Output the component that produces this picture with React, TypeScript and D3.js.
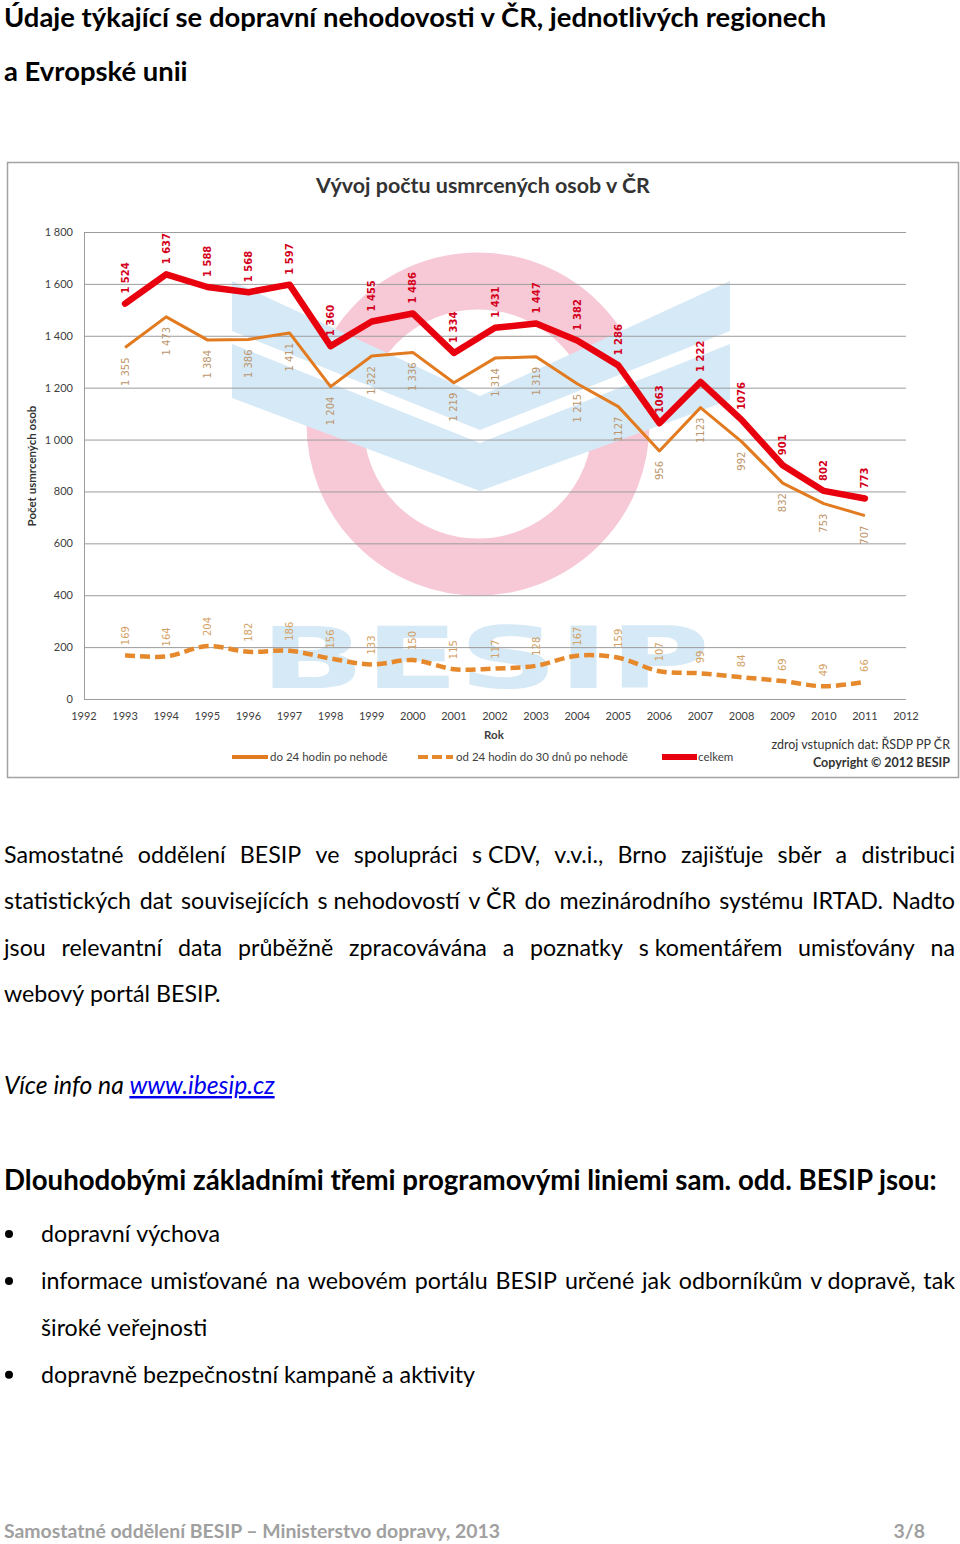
import React from 'react';
import * as d3 from 'd3';

// ---------- data ----------
const YEARS = [1993, 1994, 1995, 1996, 1997, 1998, 1999, 2000, 2001, 2002, 2003, 2004, 2005, 2006, 2007, 2008, 2009, 2010, 2011];
const X_TICKS = [1992, 1993, 1994, 1995, 1996, 1997, 1998, 1999, 2000, 2001, 2002, 2003, 2004, 2005, 2006, 2007, 2008, 2009, 2010, 2011, 2012];
const Y_TICKS = [0, 200, 400, 600, 800, 1000, 1200, 1400, 1600, 1800];
const Y_TICK_LABELS = ['0', '200', '400', '600', '800', '1 000', '1 200', '1 400', '1 600', '1 800'];

const CELKEM = [1524, 1637, 1588, 1568, 1597, 1360, 1455, 1486, 1334, 1431, 1447, 1382, 1286, 1063, 1222, 1076, 901, 802, 773];
const DO24 = [1355, 1473, 1384, 1386, 1411, 1204, 1322, 1336, 1219, 1314, 1319, 1215, 1127, 956, 1123, 992, 832, 753, 707];
const DO30 = [169, 164, 204, 182, 186, 156, 133, 150, 115, 117, 128, 167, 159, 107, 99, 84, 69, 49, 66];

const CELKEM_LABELS = ['1 524', '1 637', '1 588', '1 568', '1 597', '1 360', '1 455', '1 486', '1 334', '1 431', '1 447', '1 382', '1 286', '1063', '1 222', '1076', '901', '802', '773'];
const DO24_LABELS = ['1 355', '1 473', '1 384', '1 386', '1 411', '1 204', '1 322', '1 336', '1 219', '1 314', '1 319', '1 215', '1127', '956', '1123', '992', '832', '753', '707'];
const DO30_LABELS = ['169', '164', '204', '182', '186', '156', '133', '150', '115', '117', '128', '167', '159', '107', '99', '84', '69', '49', '66'];

const SERIES_NAMES = ['do 24 hodin po nehodě', 'od 24 hodin do 30 dnů po nehodě', 'celkem'];

// ---------- texts ----------
const TITLE1 = 'Údaje týkající se dopravní nehodovosti v ČR, jednotlivých regionech';
const TITLE2 = 'a Evropské unii';
const CHART_TITLE = 'Vývoj počtu usmrcených osob v ČR';
const BODY = [
  'Samostatné oddělení BESIP ve spolupráci s\u00a0CDV, v.v.i., Brno zajišťuje sběr a distribuci',
  'statistických dat souvisejících s\u00a0nehodovostí v\u00a0ČR do mezinárodního systému IRTAD. Nadto',
  'jsou relevantní data průběžně zpracovávána a poznatky s\u00a0komentářem umisťovány na',
  'webový portál BESIP.',
];
const MORE_INFO = 'Více info na ';
const LINK = 'www.ibesip.cz';
const HEADLINE = 'Dlouhodobými základními třemi programovými liniemi sam. odd. BESIP jsou:';
const BULLETS = [
  ['dopravní výchova'],
  ['informace umisťované na webovém portálu BESIP určené jak odborníkům v\u00a0dopravě, tak', 'široké veřejnosti'],
  ['dopravně bezpečnostní kampaně a aktivity'],
];
const FOOTER = 'Samostatné oddělení BESIP – Ministerstvo dopravy, 2013';

// ---------- measuring ----------
const FONT = 'Lato, Carlito, Calibri, "Open Sans", sans-serif';
let ctx: CanvasRenderingContext2D | null = null;
try {
  ctx = document.createElement('canvas').getContext('2d');
} catch (e) {
  ctx = null;
}
function measure(text: string, font: string): number {
  if (!ctx) return text.length * 10;
  ctx.font = font;
  return ctx.measureText(text).width;
}
function fit(text: string, weight: string, style: string, target: number): number {
  const w = measure(text, `${style} ${weight} 100px Lato`);
  return (target / w) * 100;
}

function Justified({ x, y, width, text, size, weight = 'normal', fill = '#000', justify = true }: any) {
  const words = text.split(' ');
  const font = `normal ${weight} ${size}px Lato`;
  const ws = words.map((w: string) => measure(w, font));
  const sum = ws.reduce((a: number, b: number) => a + b, 0);
  const spaceW = measure(' ', font);
  const gap = justify && words.length > 1 ? (width - sum) / (words.length - 1) : spaceW;
  let cx = x;
  return (
    <text y={y} fontFamily={FONT} fontSize={size} fontWeight={weight} fill={fill}>
      {words.map((w: string, i: number) => {
        const el = (
          <tspan key={i} x={cx}>
            {w}
          </tspan>
        );
        cx += ws[i] + gap;
        return el;
      })}
    </text>
  );
}

// ---------- chart ----------
const PLOT = { left: 84, right: 906, top: 232, bottom: 699 };

function Chart() {
  const x = d3.scaleLinear().domain([1992, 2012]).range([PLOT.left, PLOT.right]);
  const y = d3.scaleLinear().domain([0, 1800]).range([PLOT.bottom, PLOT.top]);

  const lineStraight = d3
    .line<number>()
    .x((_, i) => x(YEARS[i]))
    .y((d) => y(d));
  const lineSmooth = d3
    .line<number>()
    .x((_, i) => x(YEARS[i]))
    .y((d) => y(d))
    .curve(d3.curveCatmullRom.alpha(0.5));

  const ctSize = fit(CHART_TITLE, 'bold', 'normal', 335);

  const RED = '#e8000f';
  const ORANGE = '#e27a1f';
  const DASH = '#e5892c';

  return (
    <g>
      <rect x={7.5} y={162.5} width={951} height={615} fill="#fff" stroke="#a3a3a3" strokeWidth={1.5} />

      {/* watermark */}
      <g>
        <circle cx={478} cy={424} r={143} fill="none" stroke="#f7c9d7" strokeWidth={57} />
        <polygon points="232,281 480,396 730,281 730,400 480,491 232,398" fill="#d6e9f6" />
        <polygon points="232,331 480,430 730,331 730,344 480,443 232,344" fill="#ffffff" />
        <text
          x={260}
          y={688}
          fontFamily='"DejaVu Sans", sans-serif'
          fontWeight="bold"
          fontSize={86}
          fill="#d6e9f6"
          textLength={450}
          lengthAdjust="spacingAndGlyphs"
        >
          BESIP
        </text>
      </g>

      <text x={483} y={193} textAnchor="middle" fontFamily={FONT} fontWeight="bold" fontSize={ctSize} fill="#333">
        {CHART_TITLE}
      </text>

      {/* grid */}
      {Y_TICKS.map((t, i) => (
        <g key={t}>
          <line x1={PLOT.left} x2={PLOT.right} y1={y(t) + 0.5} y2={y(t) + 0.5} stroke="#9c9c9c" strokeWidth={1} />
          <text x={73} y={y(t) + 4} textAnchor="end" fontFamily={FONT} fontSize={11} fill="#404040">
            {Y_TICK_LABELS[i]}
          </text>
        </g>
      ))}
      <line x1={PLOT.left + 0.5} x2={PLOT.left + 0.5} y1={PLOT.top} y2={PLOT.bottom} stroke="#9c9c9c" strokeWidth={1} />

      {X_TICKS.map((t) => (
        <text key={t} x={x(t)} y={720} textAnchor="middle" fontFamily={FONT} fontSize={11} fill="#404040">
          {t}
        </text>
      ))}
      <text x={494} y={739} textAnchor="middle" fontFamily={FONT} fontWeight="bold" fontSize={11.5} fill="#404040">
        Rok
      </text>
      <text
        transform="translate(36,466) rotate(-90)"
        textAnchor="middle"
        fontFamily={FONT}
        fontWeight="bold"
        fontSize={11.5}
        fill="#333"
      >
        Počet usmrcených osob
      </text>

      {/* series */}
      <path d={lineStraight(DO24) || ''} fill="none" stroke={ORANGE} strokeWidth={3} strokeLinejoin="round" />
      <path d={lineSmooth(DO30) || ''} fill="none" stroke={DASH} strokeWidth={4.5} strokeDasharray="10 5" />
      <path d={lineStraight(CELKEM) || ''} fill="none" stroke={RED} strokeWidth={6.5} strokeLinejoin="round" strokeLinecap="round" />

      {/* labels */}
      {YEARS.map((yr, i) => (
        <g key={yr}>
          <text
            transform={`translate(${x(yr)},${y(CELKEM[i]) - 10}) rotate(-90)`}
            dy="0.35em"
            fontFamily='"DejaVu Sans", sans-serif'
            fontWeight="bold"
            fontSize={10}
            fill="#d4001c"
          >
            {CELKEM_LABELS[i]}
          </text>
          <text
            transform={`translate(${x(yr)},${y(DO24[i]) + 10}) rotate(-90)`}
            dy="0.35em"
            textAnchor="end"
            fontFamily='"DejaVu Sans", sans-serif'
            fontSize={10}
            fill="#bc966c"
          >
            {DO24_LABELS[i]}
          </text>
          <text
            transform={`translate(${x(yr)},${y(DO30[i]) - 10}) rotate(-90)`}
            dy="0.35em"
            fontFamily='"DejaVu Sans", sans-serif'
            fontSize={10}
            fill="#d3a165"
          >
            {DO30_LABELS[i]}
          </text>
        </g>
      ))}

      {/* legend */}
      <line x1={232} x2={268} y1={757} y2={757} stroke={ORANGE} strokeWidth={4} />
      <text x={270} y={761} fontFamily={FONT} fontSize={11.5} fill="#404040">
        {SERIES_NAMES[0]}
      </text>
      <line x1={418} x2={453} y1={757} y2={757} stroke={DASH} strokeWidth={4} strokeDasharray="10 4" />
      <text x={456} y={761} fontFamily={FONT} fontSize={11.5} fill="#404040">
        {SERIES_NAMES[1]}
      </text>
      <line x1={662} x2={697} y1={757} y2={757} stroke={RED} strokeWidth={6} />
      <text x={698} y={761} fontFamily={FONT} fontSize={11.5} fill="#404040">
        {SERIES_NAMES[2]}
      </text>

      <text x={950} y={749} textAnchor="end" fontFamily={FONT} fontSize={12.5} fill="#333">
        zdroj vstupních dat: ŘSDP PP ČR
      </text>
      <text x={950} y={767} textAnchor="end" fontFamily={FONT} fontWeight="bold" fontSize={12.5} fill="#333">
        Copyright © 2012 BESIP
      </text>
    </g>
  );
}

export default function App() {
  const titleSize = fit(TITLE1, 'bold', 'normal', 824);
  const bodySize = fit('dopravní výchova', 'normal', 'normal', 179);
  const headSize = fit(HEADLINE, 'bold', 'normal', 934);
  const footSize = fit(FOOTER, 'bold', 'normal', 497);
  const italicSize = fit(MORE_INFO + LINK, 'normal', 'italic', 271);

  return (
    <svg
      width={960}
      height={1544}
      viewBox="0 0 960 1544"
      style={{ position: 'absolute', left: 0, top: 0, background: '#fff' }}
    >
      <rect x={0} y={0} width={960} height={1544} fill="#fff" />
      <text x={4} y={27} fontFamily={FONT} fontWeight="bold" fontSize={titleSize} fill="#000">
        {TITLE1}
      </text>
      <text x={4} y={81} fontFamily={FONT} fontWeight="bold" fontSize={titleSize} fill="#000">
        {TITLE2}
      </text>

      <Chart />

      {BODY.map((line, i) => (
        <Justified key={i} x={4} y={863 + i * 46.4} width={951} text={line} size={bodySize} justify={i < 3} />
      ))}

      <text x={4} y={1094} fontFamily={FONT} fontStyle="italic" fontSize={italicSize} fill="#000">
        {MORE_INFO}
        <tspan fill="#0000ee" style={{ textDecoration: 'underline' }}>
          {LINK}
        </tspan>
      </text>

      <text x={4} y={1190} fontFamily={FONT} fontWeight="bold" fontSize={headSize} fill="#000">
        {HEADLINE}
      </text>

      {(() => {
        const rows: any[] = [];
        let row = 0;
        BULLETS.forEach((b, bi) => {
          b.forEach((line, li) => {
            const yy = 1242 + row * 46.9;
            if (li === 0) rows.push(<circle key={`d${bi}`} cx={9} cy={yy - 8} r={4} fill="#000" />);
            rows.push(
              <Justified
                key={`b${bi}-${li}`}
                x={41}
                y={yy}
                width={914}
                text={line}
                size={bodySize}
                justify={b.length > 1 && li < b.length - 1}
              />
            );
            row += 1;
          });
        });
        return rows;
      })()}

      <text x={4} y={1538} fontFamily={FONT} fontWeight="bold" fontSize={footSize} fill="#a0a0a0">
        {FOOTER}
      </text>
      <text x={925} y={1538} textAnchor="end" fontFamily={FONT} fontWeight="bold" fontSize={footSize} fill="#a0a0a0">
        3/8
      </text>
    </svg>
  );
}
